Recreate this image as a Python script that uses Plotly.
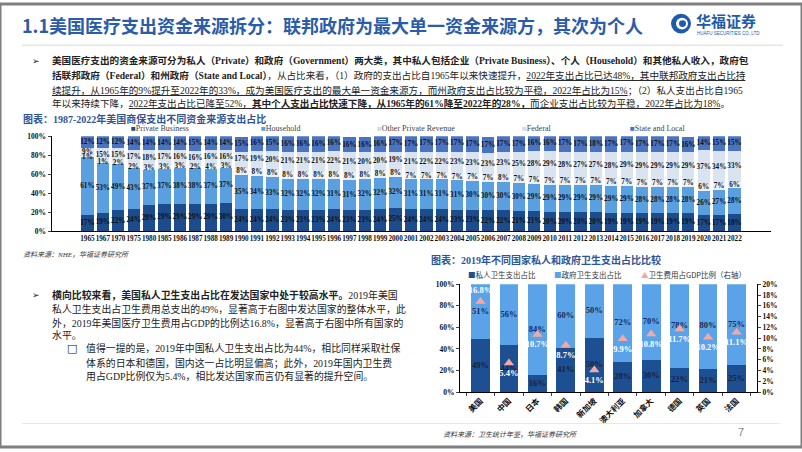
import plotly.graph_objects as go

# ---------------- data ----------------
years = ['1965', '1967', '1970', '1975', '1980', '1985', '1986', '1987', '1988', '1989',
         '1990', '1991', '1992', '1993', '1994', '1995', '1996', '1997', '1998', '1999',
         '2000', '2001', '2002', '2003', '2004', '2005', '2006', '2007', '2008', '2009',
         '2010', '2011', '2012', '2013', '2014', '2015', '2016', '2017', '2018', '2019',
         '2020', '2021', '2022']
private_business = [17, 19, 22, 24, 28, 29, 29, 29, 29, 30,
                    24, 24, 24, 23, 23, 23, 24, 23, 23, 24,
                    25, 24, 24, 24, 23, 23, 22, 22, 21, 21,
                    20, 20, 20, 20, 19, 19, 19, 19, 19, 19,
                    17, 17, 18]
household = [61, 53, 49, 43, 37, 37, 38, 38, 37, 37,
             35, 34, 33, 32, 32, 32, 31, 31, 32, 32,
             32, 31, 31, 31, 31, 30, 30, 30, 30, 29,
             29, 29, 29, 29, 29, 29, 28, 28, 28, 28,
             26, 27, 28]
other_private = [1, 1, 2, 2, 3, 3, 3, 2, 4, 3,
                 8, 8, 8, 8, 8, 8, 8, 8, 8, 8,
                 8, 7, 7, 7, 7, 7, 7, 8, 7, 7,
                 7, 7, 7, 7, 7, 7, 7, 7, 7, 7,
                 6, 7, 6]
federal = [9, 15, 15, 17, 18, 17, 16, 16, 16, 16,
           17, 19, 20, 21, 21, 21, 22, 21, 20, 20,
           19, 21, 22, 22, 23, 23, 23, 23, 25, 28,
           29, 28, 27, 27, 28, 29, 29, 29, 29, 29,
           37, 34, 33]
state_local = [12, 12, 12, 14, 14, 14, 14, 15, 14, 14,
               15, 16, 15, 16, 16, 16, 16, 16, 16, 16,
               17, 17, 17, 17, 17, 17, 17, 17, 17, 16,
               16, 17, 17, 18, 17, 17, 17, 17, 17, 16,
               14, 15, 15]
series_names = ['Private Business', 'Household', 'Other Private Revenue', 'Federal', 'State and Local']

countries = ['美国', '中国', '日本', '韩国', '新加坡', '澳大利亚', '加拿大', '德国', '英国', '法国']
private_share = [49, 44, 16, 41, 50, 28, 30, 22, 21, 25]
gov_share = [51, 56, 84, 60, 50, 72, 70, 78, 80, 75]
gdp_ratio = [16.8, 5.4, 10.7, 8.7, 4.1, 9.9, 10.8, 11.7, 10.2, 11.1]

top_pct_ticks = [0, 20, 40, 60, 80, 100]
right_pct_ticks = [0, 2, 4, 6, 8, 10, 12, 14, 16, 18, 20]

# ---------------- style ----------------
W, H = 802, 452
SERIF = 'Liberation Serif, Noto Sans CJK SC'
CJK = 'Noto Sans CJK SC'
top_colors = ['#1C4C8C', '#5AA0E0', '#EAF0F8', '#DAE4F1', '#4A74C2']
c_priv, c_gov, c_tri = '#1D4F93', '#5AA3E8', '#F3A8A8'


def X(px):
    return px / W


def Y(py):
    return 1 - py / H


fig = go.Figure()

# ---------------- top stacked chart ----------------
top_series = [private_business, household, other_private, federal, state_local]
base = [0] * len(years)
for name, vals, col in zip(series_names, top_series, top_colors):
    fig.add_trace(go.Bar(x=years, y=vals, name=name, marker=dict(color=col, line=dict(width=0)),
                         width=0.8, xaxis='x', yaxis='y', showlegend=False, hoverinfo='skip'))
    mids = [b + v / 2 for b, v in zip(base, vals)]
    fig.add_trace(go.Scatter(x=years, y=mids, mode='text', text=[f'{v}%' for v in vals],
                             textfont=dict(family='Liberation Serif', size=7.2, color='#111', weight='bold'),
                             xaxis='x', yaxis='y', showlegend=False, hoverinfo='skip'))
    base = [b + v for b, v in zip(base, vals)]

# ---------------- bottom chart ----------------
fig.add_trace(go.Bar(x=countries, y=private_share, marker=dict(color=c_priv, line=dict(width=0)),
                     width=0.66, xaxis='x2', yaxis='y2', showlegend=False, hoverinfo='skip'))
fig.add_trace(go.Bar(x=countries, y=gov_share, marker=dict(color=c_gov, line=dict(width=0)),
                     width=0.66, xaxis='x2', yaxis='y2', showlegend=False, hoverinfo='skip'))
fig.add_trace(go.Scatter(x=countries, y=[v / 2 for v in private_share], mode='text',
                         text=[f'{v}%' for v in private_share],
                         textfont=dict(family='Liberation Serif', size=8.5, color='#1a2238', weight='bold'),
                         xaxis='x2', yaxis='y2', showlegend=False, hoverinfo='skip'))
fig.add_trace(go.Scatter(x=countries, y=[p + g / 2 for p, g in zip(private_share, gov_share)], mode='text',
                         text=[f'{v}%' for v in gov_share],
                         textfont=dict(family='Liberation Serif', size=8.5, color='#1a2a55', weight='bold'),
                         xaxis='x2', yaxis='y2', showlegend=False, hoverinfo='skip'))
fig.add_trace(go.Scatter(x=countries, y=gdp_ratio, mode='markers+text',
                         marker=dict(symbol='triangle-up', size=9, color=c_tri),
                         text=[f'{v}%' for v in gdp_ratio],
                         textposition=['top center'] + ['bottom center'] * (len(countries) - 1),
                         textfont=dict(family='Liberation Serif', size=8.5, color='white', weight='bold'),
                         xaxis='x2', yaxis='y3', showlegend=False, hoverinfo='skip', cliponaxis=False))

axis_font = dict(family='Liberation Serif', size=7.5, color='#111', weight='bold')

fig.update_layout(
    width=W, height=H, autosize=False,
    margin=dict(l=0, r=0, t=0, b=0),
    paper_bgcolor='white', plot_bgcolor='white',
    barmode='stack',
    showlegend=False,
    xaxis=dict(domain=[X(51.5), X(770.5)], anchor='y', type='category', showline=True, linecolor='black',
               linewidth=1, ticks='', tickangle=0, tickfont=dict(family='Liberation Serif', size=7.2,
                                                                  color='#111', weight='bold'),
               showgrid=False, fixedrange=True),
    yaxis=dict(domain=[Y(232), Y(135)], anchor='x', range=[0, 100], tickvals=top_pct_ticks,
               ticktext=[f'{v}%' for v in top_pct_ticks], showline=True, linecolor='black', linewidth=1,
               ticks='outside', ticklen=3, tickfont=axis_font, showgrid=False, zeroline=False),
    xaxis2=dict(domain=[X(460), X(757)], anchor='y2', type='category', showline=True, linecolor='black',
                linewidth=1, ticks='outside', tickson='boundaries', ticklen=3, tickangle=-45,
                tickfont=dict(family=CJK, size=8, color='#111', weight='bold'), showgrid=False),
    yaxis2=dict(domain=[Y(396), Y(286)], anchor='x2', range=[0, 100], tickvals=top_pct_ticks,
                ticktext=[f'{v}%' for v in top_pct_ticks], showline=True, linecolor='black', linewidth=1,
                ticks='outside', ticklen=3, tickfont=axis_font, showgrid=False, zeroline=False),
    yaxis3=dict(overlaying='y2', side='right', anchor='x2', range=[0, 20], tickvals=right_pct_ticks,
                ticktext=[f'{v}%' for v in right_pct_ticks], showline=True, linecolor='black', linewidth=1,
                ticks='outside', ticklen=3, tickfont=axis_font, showgrid=False, zeroline=False),
)

annotations = []


def ann(text, px, py, size, color='#222', family=SERIF, xanchor='left', weight='normal'):
    annotations.append(dict(text=text, x=X(px), y=Y(py), xref='paper', yref='paper', showarrow=False,
                            xanchor=xanchor, yanchor='middle', align='left',
                            font=dict(size=size, color=color, family=family, weight=weight)))


# Title
ann('1.1美国医疗支出资金来源拆分：联邦政府为最大单一资金来源方，其次为个人', 20, 21, 18, '#2A5CAA', CJK, weight='bold')
# Logo text
ann('华福证券', 694, 17, 15, '#1E5BAA', CJK, weight='bold')
ann('HUAFU SECURITIES CO.,LTD', 695, 30, 4.5, '#1E5BAA', 'Liberation Sans')

# Paragraph
FS = 9.6
ann('➢', 30, 58, 9, '#222', 'DejaVu Sans')
ann('<b>美国医疗支出的资金来源可分为私人（Private）和政府（Government）两大类，其中私人包括企业（Private Business）、个人（Household）和其他私人收入，政府包</b>',
    50, 58, FS)
ann('<b>括联邦政府（Federal）和州政府（State and Local）</b>，从占比来看，（1）政府的支出占比自1965年以来快速提升，<u>2022年支出占比已达48%，其中联邦政府支出占比持</u>',
    50, 73, FS)
ann('<u>续提升，从1965年的9%提升至2022年的33%，成为美国医疗支出的最大单一资金来源方，而州政府支出占比较为平稳，2022年占比为15%</u>；（2）私人支出占比自1965',
    50, 88, FS)
ann('年以来持续下降，<u>2022年支出占比已降至52%，</u><b><u>其中个人支出占比快速下降，从1965年的61%降至2022年的28%，</u></b><u>而企业支出占比较为平稳，2022年占比为18%</u>。',
    50, 102, FS)

# Top chart caption and legend
ann('<b>图表：1987-2022年美国商保支出不同资金来源支出占比</b>', 21, 117, 10, '#2F5597')
legend_x = [129, 259, 375, 520, 628]
for name, col, lx in zip(series_names, top_colors, legend_x):
    mcol = col if name not in ('Other Private Revenue', 'Federal') else '#D0DBEC'
    ann(f'<span style="color:{mcol}">■</span>{name}', lx, 127, 8, '#444', SERIF)
ann('<i>资料来源：NHE，华福证券研究所</i>', 21, 256, 7, '#333', SERIF)

# Bottom-left text
FS2 = 9.9
ann('➢', 30, 297, 9, '#222', 'DejaVu Sans')
ann('<b>横向比较来看，美国私人卫生支出占比在发达国家中处于较高水平。</b>2019年美国', 50, 297, FS2)
ann('私人卫生支出占卫生费用总支出的49%，显著高于右图中发达国家的整体水平，此', 50, 311, FS2)
ann('外，2019年美国医疗卫生费用占GDP的比例达16.8%，显著高于右图中所有国家的', 50, 325, FS2)
ann('水平。', 50, 338, FS2)
ann('□', 65, 351, 11, '#111', 'DejaVu Sans', weight='bold')
ann('值得一提的是，2019年中国私人卫生支出占比为44%，相比同样采取社保', 84, 351, FS2)
ann('体系的日本和德国，国内这一占比明显偏高；此外，2019年国内卫生费', 84, 366, FS2)
ann('用占GDP比例仅为5.4%，相比发达国家而言仍有显著的提升空间。', 84, 380, FS2)

# Bottom chart caption, legend, source
ann('<b>图表：2019年不同国家私人和政府卫生支出占比比较</b>', 429, 261, 10, '#2F5597')
ann(f'<span style="color:{c_priv}">■</span>私人卫生支出占比', 466, 276, 7.5, '#333', CJK)
ann(f'<span style="color:{c_gov}">■</span>政府卫生支出占比', 552, 276, 7.5, '#333', CJK)
ann(f'<span style="color:{c_tri}">▲</span>卫生费用占GDP比例（右轴）', 639, 276, 7.5, '#333', CJK)
ann('<i>资料来源：卫生统计年鉴，华福证券研究所</i>', 441, 440, 7, '#333', SERIF)
ann('7', 736, 437, 11, '#7f7f7f', 'Liberation Sans')

fig.update_layout(annotations=annotations)

shapes = [
    # slide border
    dict(type='rect', xref='paper', yref='paper', x0=0, x1=1, y0=0, y1=1,
         line=dict(color='#7f7f7f', width=3), fillcolor='rgba(0,0,0,0)', layer='above'),
    # title separator
    dict(type='line', xref='paper', yref='paper', x0=X(22), x1=X(783), y0=Y(42), y1=Y(42),
         line=dict(color='#D9D9D9', width=1)),
    # footer separator
    dict(type='line', xref='paper', yref='paper', x0=X(22), x1=X(780), y0=Y(428), y1=Y(428),
         line=dict(color='#E8E8E8', width=1)),
    # logo
    dict(type='circle', xref='paper', yref='paper', x0=X(671), x1=X(691), y0=Y(30), y1=Y(10),
         fillcolor='#1E5BAA', line=dict(width=0)),
    dict(type='circle', xref='paper', yref='paper', x0=X(676), x1=X(688), y0=Y(26), y1=Y(14),
         fillcolor='white', line=dict(width=0)),
    dict(type='circle', xref='paper', yref='paper', x0=X(679), x1=X(686), y0=Y(23.5), y1=Y(16.5),
         fillcolor='#1E5BAA', line=dict(width=0)),
]
fig.update_layout(shapes=shapes)

fig.write_html('out.html', config={'displayModeBar': False},
               post_script="document.body.style.margin='0';document.body.style.overflow='hidden';")
